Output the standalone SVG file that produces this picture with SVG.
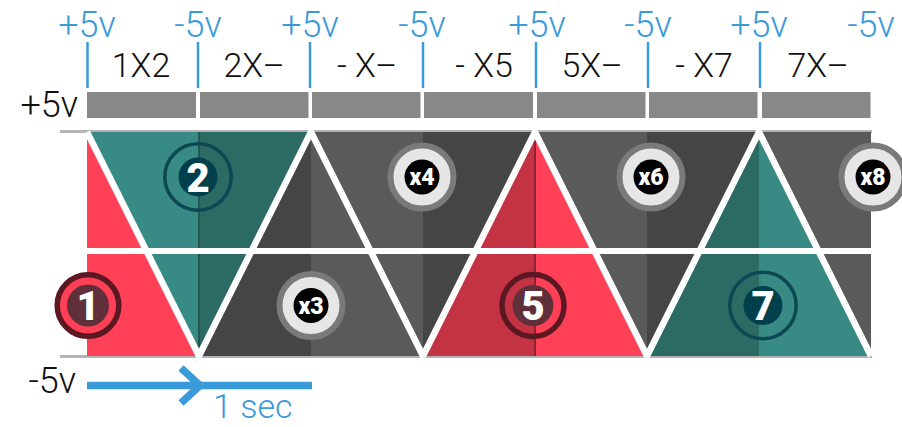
<svg xmlns="http://www.w3.org/2000/svg" width="902" height="427" viewBox="0 0 902 427">
<style>
.bl{font-family:Roboto,"Liberation Sans",sans-serif;font-weight:300;font-size:36px;fill:#3b9ad9;text-anchor:middle}
.lab{font-family:Roboto,"Liberation Sans",sans-serif;font-weight:300;font-size:34px;fill:#111;text-anchor:middle}
.side{font-family:Roboto,"Liberation Sans",sans-serif;font-weight:300;font-size:36px;fill:#111;text-anchor:end}
.tick{stroke:#3b9ad9;stroke-width:2.5}
.bar{fill:#888888}
.rl{fill:#ff4057}.rd{fill:#c43343}
.tl{fill:#388b84}.td{fill:#2c6a64}
.gl{fill:#5a5a5a}.gd{fill:#454545}
.num{font-family:Roboto,"Liberation Sans",sans-serif;font-weight:900;font-size:40px;fill:#fff;text-anchor:middle}
.xn{font-family:Roboto,"Liberation Sans",sans-serif;font-weight:900;font-size:23px;fill:#fff;text-anchor:middle}
.ringR{fill:none;stroke:#5b1822;stroke-width:5.5}
.discR{fill:#5f2f3a}
.ringT{fill:none;stroke:#0c4753;stroke-width:3.5}
.discT{fill:#003f4c}
.ringG{fill:#e6e6e6;stroke:#7a7a7a;stroke-width:6}
.discG{fill:#000}
</style>

<g id="header">
<text class="bl" x="87" y="37">+5v</text>
<text class="bl" x="198" y="37">-5v</text>
<text class="bl" x="310" y="37">+5v</text>
<text class="bl" x="422" y="37">-5v</text>
<text class="bl" x="537" y="37">+5v</text>
<text class="bl" x="648" y="37">-5v</text>
<text class="bl" x="759" y="37">+5v</text>
<text class="bl" x="871" y="37">-5v</text>
<line class="tick" x1="87.5" y1="42" x2="87.5" y2="88"/>
<line class="tick" x1="198" y1="42" x2="198" y2="88"/>
<line class="tick" x1="310" y1="42" x2="310" y2="88"/>
<line class="tick" x1="423" y1="42" x2="423" y2="88"/>
<line class="tick" x1="536" y1="42" x2="536" y2="88"/>
<line class="tick" x1="648" y1="42" x2="648" y2="88"/>
<line class="tick" x1="760" y1="42" x2="760" y2="88"/>
<text class="lab" x="141" y="77">1X2</text>
<text class="lab" x="254" y="77">2X–</text>
<text class="lab" x="367" y="77">- X–</text>
<text class="lab" x="484" y="77">- X5</text>
<text class="lab" x="592" y="77">5X–</text>
<text class="lab" x="704" y="77">- X7</text>
<text class="lab" x="818" y="77">7X–</text>
</g>

<g id="bars">
<rect class="bar" x="87" y="92" width="109" height="26"/>
<rect class="bar" x="200" y="92" width="108.5" height="26"/>
<rect class="bar" x="312" y="92" width="108.5" height="26"/>
<rect class="bar" x="424" y="92" width="109" height="26"/>
<rect class="bar" x="537" y="92" width="108.5" height="26"/>
<rect class="bar" x="649" y="92" width="108.5" height="26"/>
<rect class="bar" x="762" y="92" width="108.5" height="26"/>
</g>

<text class="side" x="78" y="117">+5v</text>
<text class="side" x="76" y="393">-5v</text>

<g id="rails">
<rect x="60" y="130" width="812" height="3" fill="#b3b3b3"/>
<rect x="60" y="355" width="812" height="3" fill="#b3b3b3"/>
</g>

<g id="triangles">
<polygon class="rl" points="87,132 199,356 87,356"/>
<polygon class="tl" points="87,132 199,132 199,356"/>
<polygon class="td" points="199,132 311,132 199,356"/>
<polygon class="gd" points="199,356 311,132 311,356"/>
<polygon class="gl" points="311,132 423,356 311,356"/>
<polygon class="gl" points="311,132 423,132 423,356"/>
<polygon class="gd" points="423,132 535,132 423,356"/>
<polygon class="rd" points="423,356 535,132 535,356"/>
<polygon class="rl" points="535,132 647,356 535,356"/>
<polygon class="gl" points="535,132 647,132 647,356"/>
<polygon class="gd" points="647,132 759,132 647,356"/>
<polygon class="td" points="647,356 759,132 759,356"/>
<polygon class="tl" points="759,132 871,356 759,356"/>
<polygon class="gl" points="759,132 871,132 871,356"/>
<line x1="199" y1="132" x2="199" y2="356" stroke="#235650" stroke-width="2"/>
<line x1="535" y1="132" x2="535" y2="356" stroke="#8e2232" stroke-width="2"/>
</g>

<g id="separators">
<rect x="80" y="248" width="795" height="6" fill="#fff"/>
<polyline points="87,132 199,356 311,132 423,356 535,132 647,356 759,132 871,356" fill="none" stroke="#fff" stroke-width="6.5" stroke-linejoin="miter" stroke-miterlimit="10"/>
</g>

<g id="connectors">
<line x1="87" y1="385.5" x2="312" y2="385.5" stroke="#3b9ad9" stroke-width="7.5"/>
<polyline points="181,368 200,385.5 181,403" fill="none" stroke="#3b9ad9" stroke-width="7.5" stroke-linejoin="miter"/>
<text class="bl" x="213" y="418" style="text-anchor:start;font-size:34px">1 sec</text>
</g>

<g id="node-1">
<circle cx="88" cy="305.5" r="30.8" class="ringR" style="fill:#ff4057"/>
<circle class="discR" cx="88" cy="305.5" r="21"/>
<text class="num" x="88" y="320">1</text>
</g>
<g id="node-2">
<circle class="ringT" cx="198" cy="177" r="33.2"/>
<circle class="discT" cx="198" cy="177" r="19.5"/>
<text class="num" x="198" y="191.5">2</text>
</g>
<g id="node-x3">
<circle class="ringG" cx="311" cy="305.5" r="31.5"/>
<circle class="discG" cx="311" cy="305.5" r="17.5"/>
<text class="xn" x="311" y="313.5">x3</text>
</g>
<g id="node-x4">
<circle class="ringG" cx="422" cy="177" r="31.5"/>
<circle class="discG" cx="422" cy="177" r="17.5"/>
<text class="xn" x="422" y="185">x4</text>
</g>
<g id="node-5">
<circle class="ringR" cx="533" cy="305.5" r="31"/>
<circle class="discR" cx="533" cy="305.5" r="20.5"/>
<text class="num" x="533" y="320">5</text>
</g>
<g id="node-x6">
<circle class="ringG" cx="651" cy="177" r="31.5"/>
<circle class="discG" cx="651" cy="177" r="17.5"/>
<text class="xn" x="651" y="185">x6</text>
</g>
<g id="node-7">
<circle class="ringT" cx="763" cy="305.5" r="33.2"/>
<circle class="discT" cx="763" cy="305.5" r="19.5"/>
<text class="num" x="763" y="320">7</text>
</g>
<g id="node-x8">
<circle class="ringG" cx="873" cy="177" r="31.5"/>
<circle class="discG" cx="873" cy="177" r="17.5"/>
<text class="xn" x="873" y="185">x8</text>
</g>
</svg>
